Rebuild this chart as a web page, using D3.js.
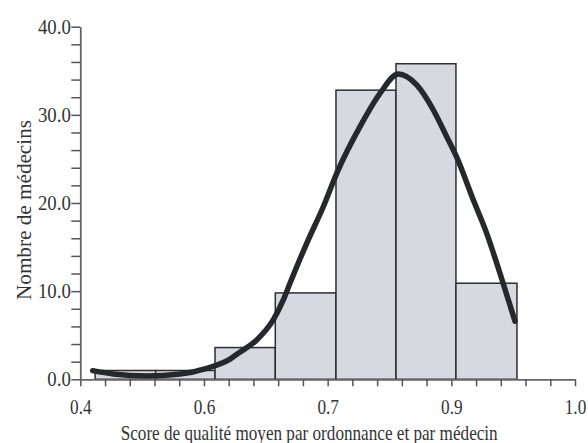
<!DOCTYPE html>
<html>
<head>
<meta charset="utf-8">
<script src="https://cdn.jsdelivr.net/npm/d3@7"></script>
<style>
  body { margin: 0; background: #fff; }
  svg { display: block; }
  text { font-family: "Liberation Serif", "DejaVu Serif", serif; fill: #333; }
</style>
</head>
<body>
<div id="chart"></div>
<script>
// histogram bins (edges) and heights
var binEdges = [0.418, 0.4914, 0.5634, 0.6365, 0.7101, 0.7829, 0.8556, 0.9296];
var binHeights = [1.0, 1.0, 3.6, 9.8, 32.8, 35.8, 10.9];

// fitted curve
var curveX = [0.415, 0.440, 0.4805, 0.521, 0.5533, 0.5816, 0.5939, 0.614, 0.634, 0.6462, 0.6543, 0.6746, 0.6947, 0.711, 0.7392, 0.7635, 0.7857, 0.808, 0.8282, 0.8444, 0.8565, 0.8767, 0.8929, 0.909, 0.9272];
var curveY = [0.98, 0.60, 0.37, 0.60, 1.25, 2.3, 3.1, 4.46, 6.73, 9.0, 10.9, 15.43, 19.58, 23.37, 28.66, 32.44, 34.63, 33.39, 30.55, 27.52, 25.2, 20.34, 16.56, 12.03, 6.6];

// axis ticks and labels
var xTicks = d3.range(0, 21).map(function(i){ return 0.4 + i * 0.03; });
var xTickLabels = ["0.4", "0.6", "0.7", "0.9", "1.0"];
var yTicks = d3.range(0, 21).map(function(i){ return i * 2; });
var yTickLabels = ["0.0", "10.0", "20.0", "30.0", "40.0"];

var xTitle = "Score de qualité moyen par ordonnance et par médecin";
var yTitle = "Nombre de médecins";

drawChart = function(){
    var width = 588, height = 443;
    var mLeft = 80.3, mRight = 575, mTop = 26.7, mBottom = 379.3;

    var svg = d3.select("#chart").append("svg")
        .attr("width", width)
        .attr("height", height);

    var x = d3.scaleLinear().domain([0.4, 1.0]).range([mLeft, mRight]);
    var y = d3.scaleLinear().domain([0, 40]).range([mBottom, mTop]);

    // squeeze text a bit, the original font is narrow
    function squeeze(sel, k) {
        sel.each(function(){
            var len = this.getComputedTextLength();
            d3.select(this).attr("textLength", len * k).attr("lengthAdjust", "spacingAndGlyphs");
        });
    }

    // bars
    var bins = binHeights.map(function(h, i){ return {x0: binEdges[i], x1: binEdges[i+1], h: h}; });
    svg.append("g").selectAll("rect")
        .data(bins)
        .enter().append("rect")
        .attr("x", function(d){ return x(d.x0); })
        .attr("width", function(d){ return x(d.x1) - x(d.x0); })
        .attr("y", function(d){ return y(d.h); })
        .attr("height", function(d){ return y(0) - y(d.h); })
        .attr("fill", "#d6d9e0")
        .attr("stroke", "#2e2e2e")
        .attr("stroke-width", 1.5);

    // axes
    var xAxis = svg.append("g")
        .attr("transform", "translate(0," + mBottom + ")")
        .call(d3.axisBottom(x).tickValues(xTicks).tickSize(7).tickSizeOuter(0)
            .tickFormat(function(d, i){ return i % 5 == 0 ? xTickLabels[i / 5] : ""; }));
    var yAxis = svg.append("g")
        .attr("transform", "translate(" + mLeft + ",0)")
        .call(d3.axisLeft(y).tickValues(yTicks).tickSize(9).tickSizeOuter(0)
            .tickFormat(function(d, i){ return i % 5 == 0 ? yTickLabels[i / 5] : ""; }));

    [xAxis, yAxis].forEach(function(ax){
        ax.select(".domain").attr("stroke", "#666").attr("stroke-width", 1.8);
        ax.selectAll(".tick line").attr("stroke", "#555").attr("stroke-width", 1.5);
        ax.selectAll(".tick text").attr("font-size", 20).attr("fill", "#333")
            .attr("font-family", "Liberation Serif");
    });
    xAxis.selectAll(".tick text").attr("y", 35).attr("dy", 0);
    yAxis.selectAll(".tick text").attr("x", -9.5).attr("dy", "0.33em");
    squeeze(xAxis.selectAll(".tick text"), 0.86);
    squeeze(yAxis.selectAll(".tick text"), 0.94);

    // curve
    var pts = curveX.map(function(v, i){ return [v, curveY[i]]; });
    var line = d3.line()
        .x(function(d){ return x(d[0]); })
        .y(function(d){ return y(d[1]); })
        .curve(d3.curveMonotoneX);
    svg.append("path")
        .datum(pts)
        .attr("d", line)
        .attr("fill", "none")
        .attr("stroke", "#25282c")
        .attr("stroke-width", 5.5)
        .attr("stroke-linecap", "round");

    // titles
    svg.append("text")
        .attr("x", 120.7)
        .attr("y", 440)
        .attr("font-size", 21)
        .attr("textLength", 377)
        .attr("lengthAdjust", "spacingAndGlyphs")
        .text(xTitle);

    svg.append("text")
        .attr("transform", "translate(31,300) rotate(-90)")
        .attr("font-size", 22)
        .attr("textLength", 180)
        .attr("lengthAdjust", "spacingAndGlyphs")
        .text(yTitle);
}
drawChart();
</script>
</body>
</html>
